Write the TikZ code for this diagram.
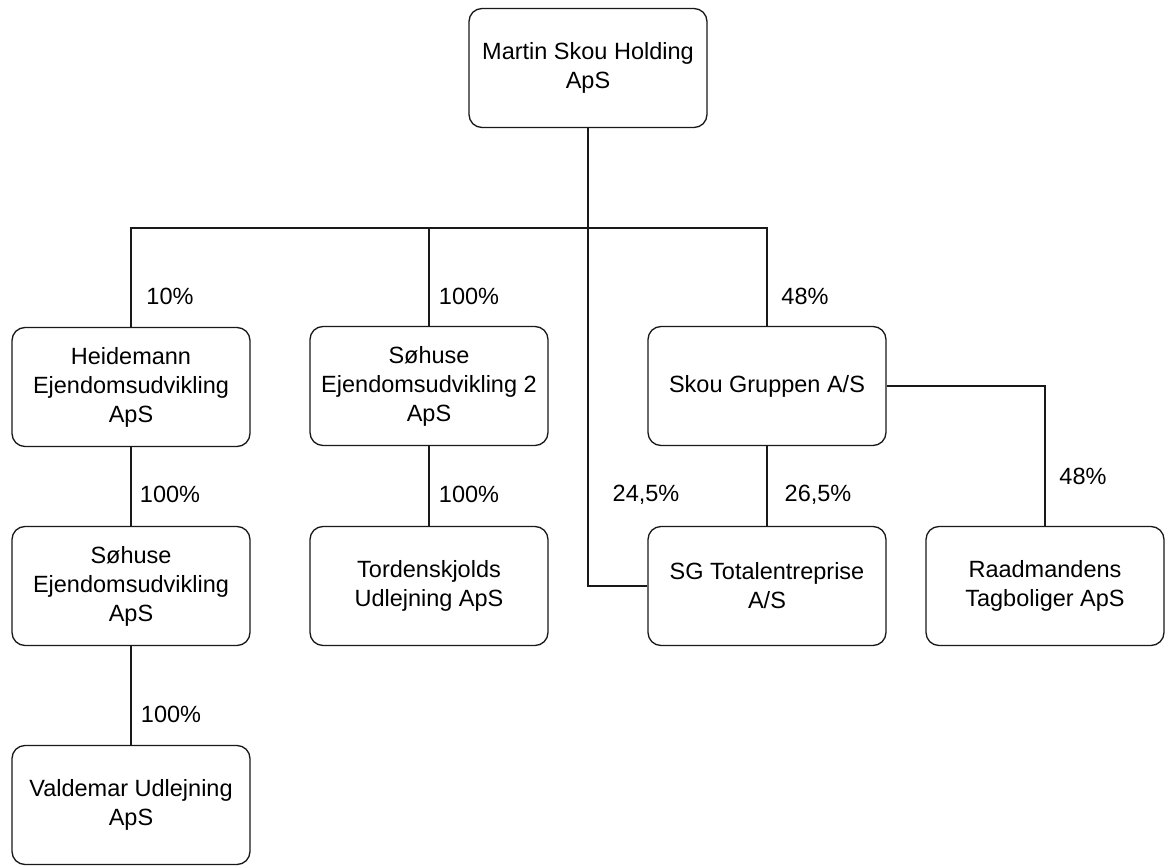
\documentclass[tikz,border=0pt]{standalone}
\usepackage{fontspec}
\setmainfont{Liberation Sans}
\begin{document}
\begin{tikzpicture}[x=1pt,y=-1pt,
  entity/.style={draw=black!90, line width=1.3pt, rounded corners=13pt,
    minimum width=238pt, minimum height=119pt, align=center,
    font=\fontsize{23.5}{29}\selectfont, inner sep=0pt},
  pct/.style={font=\fontsize{23.5}{28}\selectfont, inner sep=0pt},
  link/.style={draw=black!90, line width=1.3pt}]
\useasboundingbox (0,0) rectangle (1168,867);
\node[entity] (top)  at (588,68)  {Martin Skou Holding\\ApS};
\node[entity] (heid) at (131,387) {Heidemann\\Ejendomsudvikling\\ApS};
\node[entity] (soh2) at (429,386) {Søhuse\\Ejendomsudvikling 2\\ApS};
\node[entity] (skou) at (767,386) {Skou Gruppen A/S};
\node[entity] (soh)  at (131,586) {Søhuse\\Ejendomsudvikling\\ApS};
\node[entity] (tord) at (429,586) {Tordenskjolds\\Udlejning ApS};
\node[entity] (sg)   at (767,586) {SG Totalentreprise\\A/S};
\node[entity] (raad) at (1045,586) {Raadmandens\\Tagboliger ApS};
\node[entity] (vald) at (131,805) {Valdemar Udlejning\\ApS};
\coordinate (j) at (588,228);
\draw[link] (top.south) -- (j);
\draw[link] (j) -| (heid.north);
\draw[link] (j) -| (soh2.north);
\draw[link] (j) -| (skou.north);
\draw[link] (j) |- (sg.west);
\draw[link] (skou.east) -| (raad.north);
\draw[link] (heid) -- (soh);
\draw[link] (soh2) -- (tord);
\draw[link] (skou) -- (sg);
\draw[link] (soh) -- (vald);
\node[pct] (p1) at (170,296) {10\%};
\node[pct] (p2) at (469,296) {100\%};
\node[pct] (p3) at (805,296) {48\%};
\node[pct] (p4) at (170,494) {100\%};
\node[pct] (p5) at (469,494) {100\%};
\node[pct] (p6) at (646,495) {24,5\%};
\node[pct] (p7) at (818,495) {26,5\%};
\node[pct] (p8) at (1083,476) {48\%};
\node[pct] (p9) at (171,714) {100\%};
\end{tikzpicture}
\end{document}
